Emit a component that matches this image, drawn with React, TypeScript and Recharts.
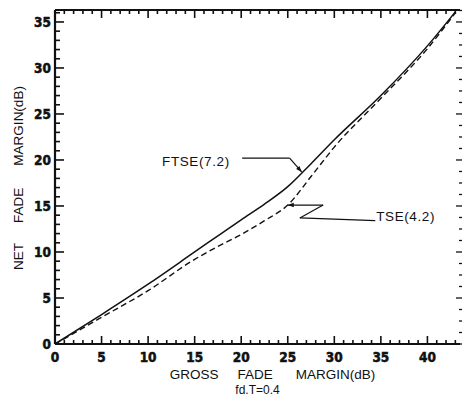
import React from 'react';
import { ComposedChart, Line, Scatter, XAxis, YAxis, ReferenceLine, ReferenceDot } from 'recharts';

// FTSE(7.2) – solid curve
const ftseX = [0, 5, 10, 15, 20, 22.5, 25, 27.5, 30, 35, 40, 43];
const ftseY = [0, 3.2, 6.5, 10.0, 13.5, 15.2, 17.1, 19.6, 22.2, 27.0, 32.4, 36.1];
// TSE(4.2) – dashed curve
const tseX = [0, 5, 10, 15, 17.5, 20, 22.5, 25, 27.5, 30, 35, 40, 43];
const tseY = [0, 2.9, 5.8, 9.2, 10.6, 11.9, 13.4, 15.1, 18.2, 21.4, 26.7, 32.1, 36.0];

const xTicks = Array.from({ length: 44 }, (_, i) => i);
const yTicks = Array.from({ length: 37 }, (_, i) => i);
const yRightTicks = Array.from({ length: 30 }, (_, i) => i * 1.25);

const ftseLabel = 'FTSE(7.2)';
const tseLabel = 'TSE(4.2)';
const xTitle = ['GROSS', 'FADE', 'MARGIN(dB)'];
const yTitle = ['NET', 'FADE', 'MARGIN(dB)'];
const subTitle = 'fd.T=0.4';

const X_MAX = 43.5;
const Y_MAX = 36.3;

// annotation pointers in data units
const ftseArrow = [
  { x: 20.1, y: 20.2 },
  { x: 25.2, y: 20.2 },
  { x: 26.5, y: 18.7 },
];
const tseArrow = [
  { x: 34.4, y: 13.4 },
  { x: 26.3, y: 13.7 },
  { x: 28.8, y: 15.1 },
  { x: 25.0, y: 15.1 },
];
const ftseText = { x: 11.5, y: 19.9 };
const tseText = { x: 34.5, y: 13.9 };

const ftseData = ftseX.map((x, i) => ({ x, y: ftseY[i] }));
const tseData = tseX.map((x, i) => ({ x, y: tseY[i] }));

// tick anchor points (placed through the chart scales)
const bottomTickPts = xTicks.map((v) => ({ x: v, y: 0, v }));
const topTickPts = xTicks.map((v) => ({ x: v, y: Y_MAX, v }));
const leftTickPts = yTicks.map((v) => ({ x: 0, y: v, v }));
const rightTickPts = yRightTicks.map((v) => ({ x: X_MAX, y: v, v }));

// ---- styling ----
const INK = '#111';
const MINOR = 4;
const MAJOR = 8;

const tickFontFamily = '"DejaVu Sans Condensed", "DejaVu Sans", sans-serif';
const labelFont: React.CSSProperties = {
  fontFamily: '"Liberation Sans", Arial, sans-serif',
  fontSize: 13.5,
  fill: INK,
};

const isMajor = (v: number) => v % 5 === 0;

const TickText = (props: { x: number; y: number; anchor: string; v: number }) => (
  <text
    x={props.x}
    y={props.y}
    textAnchor={props.anchor}
    fontFamily={tickFontFamily}
    fontWeight={700}
    fontSize={13.5}
    fill={INK}
    stroke={INK}
    strokeWidth={0.5}
  >
    {props.v}
  </text>
);

const BottomMark = (p: any) => {
  const v = p.payload ? p.payload.v : 0;
  const len = isMajor(v) ? MAJOR : MINOR;
  return (
    <g>
      <path d={`M${p.cx},${p.cy} L${p.cx},${p.cy - len}`} stroke={INK} strokeWidth={1.6} fill="none" />
      {isMajor(v) && <TickText x={p.cx} y={p.cy + 18} anchor="middle" v={v} />}
    </g>
  );
};
const TopMark = (p: any) => {
  const v = p.payload ? p.payload.v : 0;
  const len = isMajor(v) ? MAJOR : MINOR;
  return <path d={`M${p.cx},${p.cy} L${p.cx},${p.cy + len}`} stroke={INK} strokeWidth={1.6} fill="none" />;
};
const LeftMark = (p: any) => {
  const v = p.payload ? p.payload.v : 0;
  const len = isMajor(v) ? MAJOR + 1 : MINOR + 1;
  return (
    <g>
      <path d={`M${p.cx},${p.cy} L${p.cx + len},${p.cy}`} stroke={INK} strokeWidth={1.6} fill="none" />
      {isMajor(v) && <TickText x={p.cx - 4} y={p.cy + 5} anchor="end" v={v} />}
    </g>
  );
};
const RightMark = (p: any) => {
  const v = p.payload ? p.payload.v : 0;
  const len = isMajor(v) ? 6 : 3;
  return <path d={`M${p.cx + 2},${p.cy} L${p.cx + 2 - len},${p.cy}`} stroke={INK} strokeWidth={1.3} fill="none" />;
};

const SegShape = (arrow: boolean, w: number) => (p: any) => {
  const { x1, y1, x2, y2 } = p;
  let head = null;
  if (arrow) {
    const dx = x2 - x1;
    const dy = y2 - y1;
    const len = Math.sqrt(dx * dx + dy * dy) || 1;
    const ux = dx / len;
    const uy = dy / len;
    const L = 6;
    const W = 2.2;
    const bx = x2 - ux * L;
    const by = y2 - uy * L;
    head = (
      <polygon
        points={`${x2},${y2} ${bx - uy * W},${by + ux * W} ${bx + uy * W},${by - ux * W}`}
        fill={INK}
      />
    );
  }
  return (
    <g>
      <path d={`M${x1},${y1} L${x2},${y2}`} stroke={INK} strokeWidth={w} fill="none" />
      {head}
    </g>
  );
};

const TextShape = (txt: string) => (p: any) => (
  <text x={p.cx} y={p.cy + 5} textAnchor="start" style={{ ...labelFont, letterSpacing: 0.6 }}>
    {txt}
  </text>
);

const XTitle = (p: any) => {
  const vb = p.viewBox || {};
  const cx = vb.x + vb.width / 2;
  return (
    <g>
      <text x={cx + 15} y={vb.y + 35} textAnchor="middle" style={labelFont}>
        <tspan>{xTitle[0]}</tspan>
        <tspan dx={19}>{xTitle[1]}</tspan>
        <tspan dx={23}>{xTitle[2]}</tspan>
      </text>
      <text x={cx} y={vb.y + 50} textAnchor="middle" style={{ ...labelFont, fontSize: 12 }}>
        {subTitle}
      </text>
    </g>
  );
};

const YTitle = () => {
  const x = 23;
  const y = 178;
  return (
    <text x={x} y={y} textAnchor="middle" transform={`rotate(-90 ${x} ${y})`} style={labelFont}>
      <tspan>{yTitle[0]}</tspan>
      <tspan dx={20}>{yTitle[1]}</tspan>
      <tspan dx={22}>{yTitle[2]}</tspan>
    </text>
  );
};

const segs = (pts: { x: number; y: number }[]) =>
  pts.slice(1).map((p, i) => ({ a: pts[i], b: p, last: i === pts.length - 2 }));

export default function App() {
  return (
    <div style={{ position: 'absolute', left: 0, top: 0, width: 464, height: 400, background: '#fff' }}>
      <ComposedChart width={464} height={400} margin={{ top: 9, right: 3, bottom: 36, left: 20 }}>
        <XAxis
          xAxisId="b"
          dataKey="x"
          type="number"
          domain={[0, X_MAX]}
          orientation="bottom"
          height={20}
          tick={false}
          tickLine={false}
          axisLine={{ stroke: INK, strokeWidth: 1.8 }}
          label={{ content: XTitle }}
        />
        <XAxis
          xAxisId="t"
          dataKey="x"
          type="number"
          domain={[0, X_MAX]}
          orientation="top"
          height={1}
          tick={false}
          tickLine={false}
          axisLine={{ stroke: INK, strokeWidth: 1.8 }}
        />
        <YAxis
          yAxisId="l"
          dataKey="y"
          type="number"
          domain={[0, Y_MAX]}
          width={35}
          tick={false}
          tickLine={false}
          axisLine={{ stroke: INK, strokeWidth: 2.2 }}
          label={{ content: YTitle }}
        />
        <YAxis
          yAxisId="r"
          dataKey="y"
          orientation="right"
          type="number"
          domain={[0, Y_MAX]}
          width={1}
          tick={false}
          tickLine={false}
          axisLine={false}
        />
        <Scatter xAxisId="b" yAxisId="l" data={bottomTickPts} dataKey="y" shape={BottomMark} isAnimationActive={false} />
        <Scatter xAxisId="b" yAxisId="l" data={topTickPts} dataKey="y" shape={TopMark} isAnimationActive={false} />
        <Scatter xAxisId="b" yAxisId="l" data={leftTickPts} dataKey="y" shape={LeftMark} isAnimationActive={false} />
        <Scatter xAxisId="b" yAxisId="r" data={rightTickPts} dataKey="y" shape={RightMark} isAnimationActive={false} />
        <Line
          xAxisId="b"
          yAxisId="l"
          data={ftseData}
          dataKey="y"
          type="monotone"
          stroke={INK}
          strokeWidth={1.5}
          dot={false}
          activeDot={false}
          isAnimationActive={false}
        />
        <Line
          xAxisId="b"
          yAxisId="l"
          data={tseData}
          dataKey="y"
          type="monotone"
          stroke={INK}
          strokeWidth={1.4}
          strokeDasharray="6 3.5"
          dot={false}
          activeDot={false}
          isAnimationActive={false}
        />
        {segs(ftseArrow).map((s, i) => (
          <ReferenceLine
            key={'f' + i}
            xAxisId="b"
            yAxisId="l"
            segment={[s.a, s.b]}
            shape={SegShape(s.last, 1.2)}
          />
        ))}
        {segs(tseArrow).map((s, i) => (
          <ReferenceLine
            key={'t' + i}
            xAxisId="b"
            yAxisId="l"
            segment={[s.a, s.b]}
            shape={SegShape(s.last, 1.2)}
          />
        ))}
        <ReferenceDot xAxisId="b" yAxisId="l" x={ftseText.x} y={ftseText.y} r={0} shape={TextShape(ftseLabel)} />
        <ReferenceDot xAxisId="b" yAxisId="l" x={tseText.x} y={tseText.y} r={0} shape={TextShape(tseLabel)} />
      </ComposedChart>
    </div>
  );
}
